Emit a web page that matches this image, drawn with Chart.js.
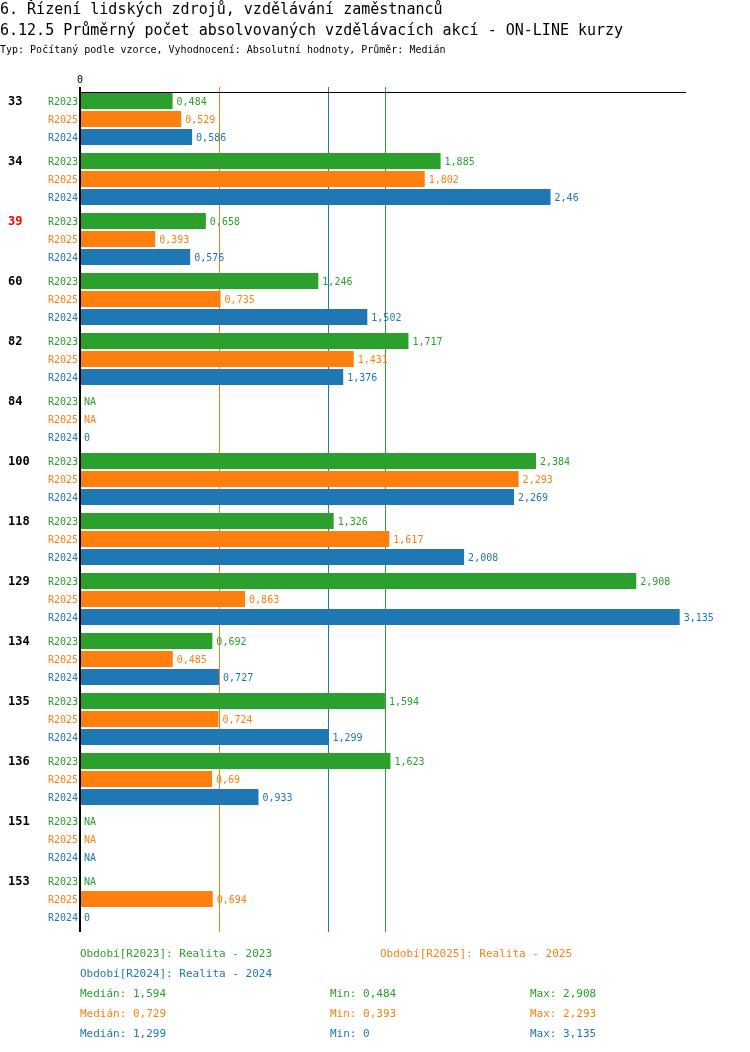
<!DOCTYPE html>
<html>
<head>
<meta charset="utf-8">
<script src="https://cdn.jsdelivr.net/npm/chart.js@4.4.7/dist/chart.umd.min.js"></script>
<style>
  html, body { margin: 0; padding: 0; background: #fff; }
  canvas { display: block; }
</style>
</head>
<body>
<canvas id="chart" width="750" height="1052"></canvas>
<script>
// data
const groups = ['33', '34', '39', '60', '82', '84', '100', '118', '129', '134', '135', '136', '151', '153'];
const highlightGroups = ['39'];
const seriesNames = ['R2023', 'R2025', 'R2024'];
const r2023 = [0.484, 1.885, 0.658, 1.246, 1.717, null, 2.384, 1.326, 2.908, 0.692, 1.594, 1.623, null, null];
const r2025 = [0.529, 1.802, 0.393, 0.735, 1.431, null, 2.293, 1.617, 0.863, 0.485, 0.724, 0.69, null, 0.694];
const r2024 = [0.586, 2.46, 0.576, 1.502, 1.376, 0, 2.269, 2.008, 3.135, 0.727, 1.299, 0.933, null, 0];
const periodTexts = ['Období[R2023]: Realita - 2023', 'Období[R2025]: Realita - 2025', 'Období[R2024]: Realita - 2024'];
const medians = [1.594, 0.729, 1.299];
const mins = [0.484, 0.393, 0];
const maxs = [2.908, 2.293, 3.135];
const xTicks = [0];

const titleLines = [
    '6. Řízení lidských zdrojů, vzdělávání zaměstnanců',
    '6.12.5 Průměrný počet absolvovaných vzdělávacích akcí - ON-LINE kurzy'
];
const subtitle = 'Typ: Počítaný podle vzorce, Vyhodnocení: Absolutní hodnoty, Průměr: Medián';

const colors = ['#2ca02c', '#ff7f0e', '#1f77b4'];
const MONO = '"DejaVu Sans Mono", "Liberation Mono", monospace';

const fmt = v => String(v).replace('.', ',');

const overlay = {
    id: 'overlay',
    beforeDatasetsDraw(chart) {
        const { ctx, chartArea, scales: { x } } = chart;
        const top = chartArea.top + 3;
        const bottom = chartArea.bottom + 3;
        ctx.save();
        // median lines
        ctx.lineWidth = 1;
        medians.forEach((m, i) => {
            const px = Math.round(x.getPixelForValue(m)) + 0.5;
            ctx.strokeStyle = colors[i];
            ctx.beginPath();
            ctx.moveTo(px, top - 5);
            ctx.lineTo(px, bottom);
            ctx.stroke();
        });
        // top axis line
        ctx.strokeStyle = '#000';
        ctx.beginPath();
        ctx.moveTo(chartArea.left, top + 0.5);
        ctx.lineTo(chartArea.right, top + 0.5);
        ctx.stroke();
        ctx.restore();
    },
    afterDatasetsDraw(chart) {
        const { ctx, chartArea, scales: { x } } = chart;
        const top = chartArea.top + 3;
        const bottom = chartArea.bottom + 3;
        ctx.save();
        // left axis line
        ctx.strokeStyle = '#000';
        ctx.lineWidth = 2;
        ctx.beginPath();
        ctx.moveTo(chartArea.left, top - 5);
        ctx.lineTo(chartArea.left, bottom);
        ctx.stroke();

        // tick label on top
        ctx.fillStyle = '#000';
        ctx.font = '10px ' + MONO;
        ctx.textAlign = 'center';
        ctx.textBaseline = 'middle';
        xTicks.forEach(t => ctx.fillText(String(t), x.getPixelForValue(t), top - 12));

        // series labels + value labels
        chart.data.datasets.forEach((ds, di) => {
            const meta = chart.getDatasetMeta(di);
            meta.data.forEach((bar, i) => {
                const v = ds.data[i];
                const y = bar.y;
                ctx.fillStyle = colors[di];
                ctx.font = '10px ' + MONO;
                ctx.textBaseline = 'middle';
                ctx.textAlign = 'right';
                ctx.fillText(seriesNames[di], chartArea.left - 2, y + 1);
                ctx.textAlign = 'left';
                const bx = v === null ? x.getPixelForValue(0) : bar.x;
                ctx.fillText(v === null ? 'NA' : fmt(v), bx + 4, y + 1);
                if (di === 0) {
                    ctx.font = 'bold 12px ' + MONO;
                    ctx.fillStyle = highlightGroups.includes(groups[i]) ? '#ff0000' : '#000';
                    ctx.fillText(groups[i], 8, y + 1);
                }
            });
        });

        // titles
        ctx.fillStyle = '#000';
        ctx.textAlign = 'left';
        ctx.font = '15px ' + MONO;
        ctx.fillText(titleLines[0], 0, 10);
        ctx.fillText(titleLines[1], 0, 31);
        ctx.font = '10px ' + MONO;
        ctx.fillText(subtitle, 0, 50);

        // legend and stats
        ctx.font = '11px ' + MONO;
        const lx = chartArea.left;
        ctx.fillStyle = colors[0];
        ctx.fillText(periodTexts[0], lx, 954);
        ctx.fillStyle = colors[1];
        ctx.fillText(periodTexts[1], 380, 954);
        ctx.fillStyle = colors[2];
        ctx.fillText(periodTexts[2], lx, 974);
        [0, 1, 2].forEach(i => {
            const y = 994 + i * 20;
            ctx.fillStyle = colors[i];
            ctx.fillText('Medián: ' + fmt(medians[i]), lx, y);
            ctx.fillText('Min: ' + fmt(mins[i]), 330, y);
            ctx.fillText('Max: ' + fmt(maxs[i]), 530, y);
        });
        ctx.restore();
    }
};

new Chart(document.getElementById('chart'), {
    type: 'bar',
    data: {
        labels: groups,
        datasets: [
            { label: seriesNames[0], data: r2023, backgroundColor: colors[0] },
            { label: seriesNames[1], data: r2025, backgroundColor: colors[1] },
            { label: seriesNames[2], data: r2024, backgroundColor: colors[2] }
        ]
    },
    options: {
        indexAxis: 'y',
        responsive: false,
        animation: false,
        devicePixelRatio: 1,
        layout: { padding: { left: 80, top: 89, right: 64, bottom: 123 } },
        datasets: {
            bar: { categoryPercentage: 0.9, barPercentage: 16 / 18, borderWidth: 0 }
        },
        scales: {
            x: { display: false, min: 0, max: 3.168 },
            y: { display: false }
        },
        plugins: {
            legend: { display: false },
            tooltip: { enabled: false }
        }
    },
    plugins: [overlay]
});
</script>
</body>
</html>
